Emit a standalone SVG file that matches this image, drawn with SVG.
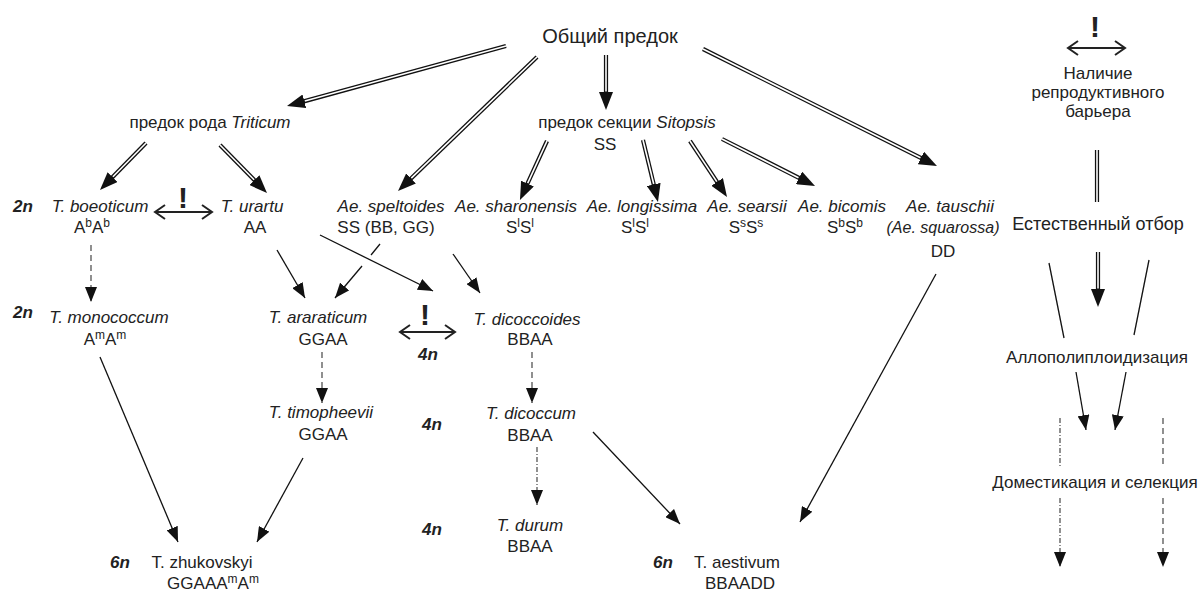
<svg xmlns="http://www.w3.org/2000/svg" width="1200" height="592" viewBox="0 0 1200 592">
<defs>
<style>
.t{font-family:"Liberation Sans",Arial,sans-serif;font-size:17px;fill:#222;text-anchor:middle}
.i{font-style:italic}
.n{font-weight:bold;font-style:italic}
.big{font-size:20px}
.lg{font-size:17px}
.ex{font-family:"Liberation Sans",Arial,sans-serif;font-weight:bold;font-size:30px;fill:#222;text-anchor:middle}
.db{fill:none;stroke:#111;stroke-width:4.2}
.dw{fill:none;stroke:#fff;stroke-width:1.6}
.th{fill:none;stroke:#111;stroke-width:1.3}
.da{stroke-dasharray:6 4;stroke:#555}
.dd{stroke-dasharray:5 2 1 2;stroke:#555}
.bar{fill:none;stroke:#222;stroke-width:2}
</style>
<marker id="ahd" markerUnits="userSpaceOnUse" markerWidth="18" markerHeight="14" refX="10" refY="7" orient="auto"><path d="M0,0 L18,7 L0,14 z" fill="#111"/></marker>
<marker id="ah" markerUnits="userSpaceOnUse" markerWidth="15" markerHeight="12" refX="15" refY="6" orient="auto"><path d="M0,0 L15,6 L0,12 z" fill="#111"/></marker>
</defs>
<rect width="1200" height="592" fill="#fff"/>

<g id="connectors">
<path class="db" d="M506,46 L294.7,103.9" marker-end="url(#ahd)"/><path class="dw" d="M506,46 L304.8,101.1"/>
<path class="db" d="M537,57 L403.8,185.4" marker-end="url(#ahd)"/><path class="dw" d="M537,57 L411.3,178.2"/>
<path class="db" d="M606,55 L606,102" marker-end="url(#ahd)"/><path class="dw" d="M606,55 L606,91.5"/>
<path class="db" d="M703,49 L929.8,162.4" marker-end="url(#ahd)"/><path class="dw" d="M703,49 L920.5,157.7"/>
<path class="db" d="M146,143 L105.6,184.3" marker-end="url(#ahd)"/><path class="dw" d="M146,143 L112.9,176.8"/>
<path class="db" d="M220,145 L261.4,187.3" marker-end="url(#ahd)"/><path class="dw" d="M220,145 L254.1,179.8"/>
<path class="db" d="M547,141 L523.3,192.7" marker-end="url(#ahd)"/><path class="dw" d="M547,141 L527.7,183.2"/>
<path class="db" d="M643,140 L656.1,194.2" marker-end="url(#ahd)"/><path class="dw" d="M643,140 L653.7,184"/>
<path class="db" d="M690,141 L722.6,190.3" marker-end="url(#ahd)"/><path class="dw" d="M690,141 L716.8,181.6"/>
<path class="db" d="M722,139 L807.9,182.4" marker-end="url(#ahd)"/><path class="dw" d="M722,139 L798.5,177.7"/>
<path class="th da" d="M91,245 L91,302" marker-end="url(#ah)"/>
<path class="th" d="M277,250 L305,298" marker-end="url(#ah)"/>
<path class="th" d="M380,244 L371,255"/>
<path class="th" d="M362,266 L335,298" marker-end="url(#ah)"/>
<path class="th" d="M320,235 L433,291" marker-end="url(#ah)"/>
<path class="th" d="M453,254 L480,293" marker-end="url(#ah)"/>
<path class="th da" d="M532,352 L532,403" marker-end="url(#ah)"/>
<path class="th da" d="M322,352 L322,403" marker-end="url(#ah)"/>
<path class="th dd" d="M537,447 L537,505" marker-end="url(#ah)"/>
<path class="th" d="M593,432 L680,524" marker-end="url(#ah)"/>
<path class="th" d="M936,274 L800,522" marker-end="url(#ah)"/>
<path class="th" d="M100,357 L178,542" marker-end="url(#ah)"/>
<path class="th" d="M303,458 L257,542" marker-end="url(#ah)"/>
<path class="bar" d="M155,212 L212,212 M165,205 L155,212 L165,219 M202,205 L212,212 L202,219"/>
<path class="bar" d="M400,332 L455,332 M410,325 L400,332 L410,339 M445,325 L455,332 L445,339"/>
</g>

<g id="legend">
<text class="ex" x="1095" y="37">!</text>
<path class="bar" d="M1068,48 L1125,48 M1078,41 L1068,48 L1078,55 M1115,41 L1125,48 L1115,55"/>
<text class="t lg" x="1098" y="79">Наличие</text>
<text class="t lg" x="1098" y="98">репродуктивного</text>
<text class="t lg" x="1098" y="117">барьера</text>
<path class="db" d="M1097,150 L1097,202"/><path class="dw" d="M1097,150 L1097,202"/>
<text class="t" x="1098" y="230" style="font-size:18px">Естественный отбор</text>
<path class="db" d="M1098,252 L1098,299" marker-end="url(#ahd)"/><path class="dw" d="M1098,252 L1098,288.5"/>
<path class="th" d="M1049,263 L1064,338"/>
<path class="th" d="M1149,260 L1134,335"/>
<text class="t lg" x="1097" y="363">Аллополиплоидизация</text>
<path class="th" d="M1076,372 L1086,430" marker-end="url(#ah)"/>
<path class="th" d="M1126,372 L1115,430" marker-end="url(#ah)"/>
<path class="th dd" d="M1060,418 L1060,467"/>
<path class="th dd" d="M1060,498 L1060,567" marker-end="url(#ah)"/>
<path class="th da" d="M1163,418 L1163,467"/>
<path class="th da" d="M1163,498 L1163,567" marker-end="url(#ah)"/>
<text class="t lg" x="1095" y="488">Доместикация и селекция</text>
</g>

<g id="n-common"><text class="t big" x="610" y="43">Общий предок</text></g>
<g id="n-triticum"><text class="t" x="210" y="128">предок рода <tspan class="i">Triticum</tspan></text></g>
<g id="n-sitopsis"><text class="t" x="627" y="128">предок секции <tspan class="i">Sitopsis</tspan></text><text class="t" x="605" y="150">SS</text></g>

<g id="ploidy">
<text class="t n" x="23" y="212">2n</text>
<text class="t n" x="23" y="318">2n</text>
<text class="t n" x="428" y="360">4n</text>
<text class="t n" x="432" y="430">4n</text>
<text class="t n" x="432" y="535">4n</text>
<text class="t n" x="120" y="568">6n</text>
<text class="t n" x="663" y="568">6n</text>
</g>

<g id="n-boeoticum"><text class="t i" x="100" y="212">T. boeoticum</text><text class="t" x="92" y="233">A<tspan dy="-6" font-size="12">b</tspan><tspan dy="6">A</tspan><tspan dy="-6" font-size="12">b</tspan></text></g>
<g id="barrier1"><text class="ex" x="183" y="208">!</text></g>
<g id="n-urartu"><text class="t i" x="252" y="212">T. urartu</text><text class="t" x="255" y="233">AA</text></g>
<g id="n-speltoides"><text class="t i" x="391" y="212">Ae. speltoides</text><text class="t" x="386" y="233">SS (BB, GG)</text></g>
<g id="n-sharonensis"><text class="t i" x="516" y="212">Ae. sharonensis</text><text class="t" x="520" y="233">S<tspan dy="-6" font-size="12">l</tspan><tspan dy="6">S</tspan><tspan dy="-6" font-size="12">l</tspan></text></g>
<g id="n-longissima"><text class="t i" x="642" y="212">Ae. longissima</text><text class="t" x="635" y="233">S<tspan dy="-6" font-size="12">l</tspan><tspan dy="6">S</tspan><tspan dy="-6" font-size="12">l</tspan></text></g>
<g id="n-searsii"><text class="t i" x="747" y="212">Ae. searsii</text><text class="t" x="746" y="233">S<tspan dy="-6" font-size="12">s</tspan><tspan dy="6">S</tspan><tspan dy="-6" font-size="12">s</tspan></text></g>
<g id="n-bicomis"><text class="t i" x="842" y="212">Ae. bicomis</text><text class="t" x="845" y="233">S<tspan dy="-6" font-size="12">b</tspan><tspan dy="6">S</tspan><tspan dy="-6" font-size="12">b</tspan></text></g>
<g id="n-tauschii"><text class="t i" x="950" y="212">Ae. tauschii</text><text class="t i" x="943" y="233" style="font-size:16px">(Ae. squarossa)</text><text class="t" x="943" y="257">DD</text></g>

<g id="n-monococcum"><text class="t i" x="109" y="323">T. monococcum</text><text class="t" x="105" y="345">A<tspan dy="-6" font-size="12">m</tspan><tspan dy="6">A</tspan><tspan dy="-6" font-size="12">m</tspan></text></g>
<g id="n-araraticum"><text class="t i" x="318" y="323">T. araraticum</text><text class="t" x="323" y="345">GGAA</text></g>
<g id="barrier2"><text class="ex" x="425" y="325">!</text></g>
<g id="n-dicoccoides"><text class="t i" x="527" y="325">T. dicoccoides</text><text class="t" x="530" y="345">BBAA</text></g>
<g id="n-timopheevii"><text class="t i" x="321" y="418">T. timopheevii</text><text class="t" x="323" y="440">GGAA</text></g>
<g id="n-dicoccum"><text class="t i" x="531" y="419">T. dicoccum</text><text class="t" x="530" y="441">BBAA</text></g>
<g id="n-durum"><text class="t i" x="530" y="531">T. durum</text><text class="t" x="530" y="552">BBAA</text></g>
<g id="n-zhukovskyi"><text class="t" x="202" y="568">T. zhukovskyi</text><text class="t" x="213" y="589">GGAAA<tspan dy="-6" font-size="12">m</tspan><tspan dy="6">A</tspan><tspan dy="-6" font-size="12">m</tspan></text></g>
<g id="n-aestivum"><text class="t" x="737" y="568">T. aestivum</text><text class="t" x="740" y="589">BBAADD</text></g>
</svg>
